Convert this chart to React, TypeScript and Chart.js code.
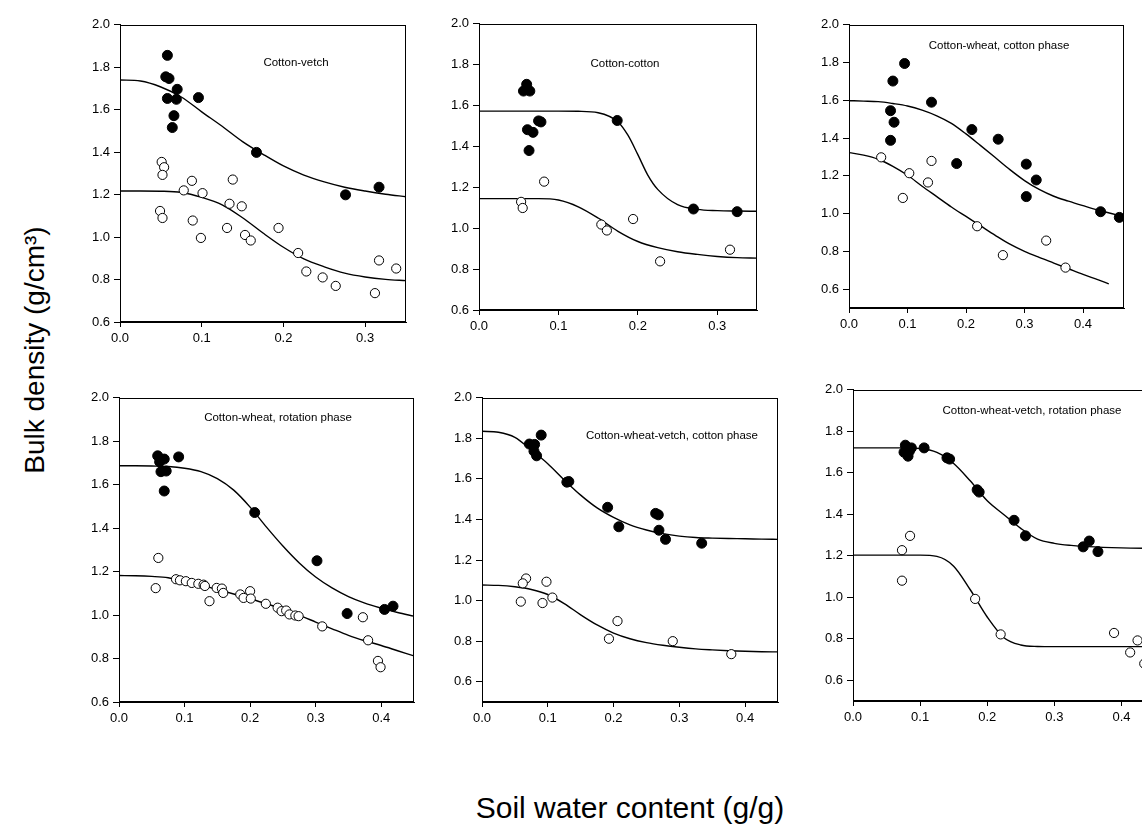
import React, { useEffect, useRef } from "react";
import { Chart, registerables } from "chart.js";
Chart.register(...registerables);

// ---------- tick labels ----------
const xTicksShort = [0, 0.1, 0.2, 0.3];
const xTicksLong = [0, 0.1, 0.2, 0.3, 0.4];
const yTicks = [0.6, 0.8, 1.0, 1.2, 1.4, 1.6, 1.8, 2.0];

// ---------- panel titles ----------
const titles = [
  "Cotton-vetch",
  "Cotton-cotton",
  "Cotton-wheat, cotton phase",
  "Cotton-wheat, rotation phase",
  "Cotton-wheat-vetch, cotton phase",
  "Cotton-wheat-vetch, rotation phase",
];
const xAxisTitle = "Soil water content (g/g)";
const yAxisTitle = "Bulk density (g/cm\u00b3)";

// ---------- Panel 1: Cotton-vetch ----------
const p1Filled = [[0.058,1.856],[0.056,1.755],[0.060,1.747],[0.070,1.696],[0.058,1.653],[0.069,1.649],[0.096,1.657],[0.066,1.572],[0.064,1.516],[0.167,1.399],[0.276,1.199],[0.317,1.235]];
const p1Open = [[0.051,1.354],[0.054,1.329],[0.052,1.293],[0.049,1.123],[0.052,1.090],[0.078,1.220],[0.088,1.265],[0.089,1.078],[0.101,1.207],[0.099,0.996],[0.134,1.157],[0.138,1.271],[0.149,1.145],[0.131,1.043],[0.153,1.010],[0.160,0.984],[0.194,1.043],[0.218,0.925],[0.228,0.838],[0.248,0.810],[0.264,0.770],[0.312,0.736],[0.317,0.890],[0.338,0.852]];
const p1FitFilled = [[0,1.74],[0.025,1.735],[0.05,1.707],[0.075,1.66],[0.1,1.59],[0.125,1.522],[0.15,1.45],[0.175,1.39],[0.2,1.335],[0.225,1.292],[0.25,1.26],[0.275,1.235],[0.3,1.217],[0.325,1.202],[0.35,1.19]];
const p1FitOpen = [[0,1.217],[0.025,1.217],[0.05,1.216],[0.075,1.21],[0.1,1.187],[0.125,1.152],[0.15,1.091],[0.175,1.019],[0.2,0.952],[0.225,0.897],[0.25,0.86],[0.275,0.83],[0.3,0.812],[0.325,0.801],[0.35,0.795]];

// ---------- Panel 2: Cotton-cotton ----------
const p2Filled = [[0.056,1.671],[0.060,1.704],[0.064,1.671],[0.061,1.482],[0.068,1.469],[0.063,1.380],[0.075,1.525],[0.078,1.520],[0.174,1.527],[0.270,1.094],[0.325,1.081]];
const p2Open = [[0.053,1.129],[0.055,1.099],[0.082,1.228],[0.154,1.018],[0.161,0.989],[0.194,1.045],[0.228,0.838],[0.316,0.895]];
const p2FitFilled = [[0,1.573],[0.05,1.573],[0.1,1.573],[0.125,1.572],[0.15,1.565],[0.175,1.52],[0.1875,1.455],[0.2,1.36],[0.2125,1.26],[0.225,1.19],[0.25,1.115],[0.275,1.092],[0.3,1.086],[0.325,1.084],[0.35,1.083]];
const p2FitOpen = [[0,1.145],[0.05,1.145],[0.075,1.145],[0.1,1.138],[0.125,1.105],[0.15,1.05],[0.175,0.985],[0.2,0.935],[0.225,0.905],[0.25,0.885],[0.275,0.872],[0.3,0.862],[0.325,0.856],[0.35,0.854]];

// ---------- Panel 3: Cotton-wheat, cotton phase ----------
const p3Filled = [[0.095,1.795],[0.075,1.702],[0.071,1.545],[0.077,1.484],[0.071,1.388],[0.141,1.590],[0.184,1.265],[0.210,1.445],[0.255,1.394],[0.303,1.262],[0.303,1.090],[0.320,1.178],[0.430,1.010],[0.462,0.980]];
const p3Open = [[0.055,1.298],[0.092,1.083],[0.103,1.214],[0.135,1.165],[0.141,1.279],[0.219,0.933],[0.263,0.780],[0.337,0.857],[0.370,0.714]];
const p3FitFilled = [[0,1.598],[0.025,1.596],[0.05,1.593],[0.075,1.583],[0.1,1.57],[0.125,1.548],[0.15,1.518],[0.175,1.478],[0.2,1.422],[0.225,1.36],[0.25,1.297],[0.275,1.233],[0.3,1.175],[0.325,1.128],[0.35,1.092],[0.375,1.066],[0.4,1.042],[0.425,1.019],[0.45,0.999],[0.465,0.987]];
const p3FitOpen = [[0,1.323],[0.025,1.31],[0.05,1.288],[0.075,1.25],[0.1,1.203],[0.125,1.145],[0.15,1.09],[0.175,1.035],[0.2,0.985],[0.225,0.935],[0.25,0.885],[0.275,0.838],[0.3,0.8],[0.325,0.768],[0.35,0.738],[0.375,0.708],[0.4,0.678],[0.425,0.65],[0.444,0.628]];

// ---------- Panel 4: Cotton-wheat, rotation phase ----------
const p4Filled = [[0.059,1.733],[0.062,1.705],[0.069,1.718],[0.064,1.660],[0.072,1.663],[0.069,1.571],[0.091,1.728],[0.207,1.472],[0.302,1.250],[0.348,1.007],[0.405,1.026],[0.418,1.041]];
const p4Open = [[0.060,1.263],[0.056,1.124],[0.087,1.165],[0.093,1.160],[0.102,1.156],[0.111,1.148],[0.121,1.144],[0.129,1.140],[0.131,1.134],[0.138,1.064],[0.149,1.125],[0.157,1.122],[0.159,1.102],[0.185,1.095],[0.190,1.079],[0.200,1.110],[0.201,1.076],[0.224,1.052],[0.242,1.034],[0.248,1.018],[0.255,1.021],[0.260,1.003],[0.269,0.998],[0.274,0.995],[0.310,0.948],[0.372,0.990],[0.380,0.884],[0.395,0.789],[0.399,0.760]];
const p4FitFilled = [[0,1.687],[0.025,1.687],[0.05,1.686],[0.075,1.684],[0.1,1.676],[0.125,1.66],[0.15,1.628],[0.175,1.575],[0.2,1.497],[0.225,1.405],[0.25,1.318],[0.275,1.24],[0.3,1.175],[0.325,1.125],[0.35,1.085],[0.375,1.055],[0.4,1.032],[0.425,1.012],[0.45,0.995]];
const p4FitOpen = [[0,1.182],[0.025,1.181],[0.05,1.178],[0.075,1.172],[0.1,1.156],[0.125,1.138],[0.15,1.118],[0.175,1.097],[0.2,1.075],[0.225,1.052],[0.25,1.027],[0.275,0.999],[0.3,0.968],[0.325,0.937],[0.35,0.907],[0.375,0.882],[0.4,0.86],[0.425,0.836],[0.45,0.812]];

// ---------- Panel 5: Cotton-wheat-vetch, cotton phase ----------
const p5Filled = [[0.090,1.816],[0.072,1.772],[0.080,1.770],[0.079,1.737],[0.083,1.714],[0.129,1.584],[0.132,1.587],[0.191,1.460],[0.208,1.364],[0.264,1.430],[0.268,1.423],[0.269,1.347],[0.279,1.302],[0.334,1.283]];
const p5Open = [[0.067,1.109],[0.062,1.085],[0.059,0.995],[0.098,1.093],[0.092,0.988],[0.107,1.015],[0.193,0.812],[0.206,0.899],[0.290,0.800],[0.379,0.736]];
const p5FitFilled = [[0,1.835],[0.025,1.83],[0.05,1.805],[0.075,1.742],[0.1,1.675],[0.125,1.595],[0.15,1.52],[0.175,1.457],[0.2,1.41],[0.225,1.373],[0.25,1.348],[0.275,1.33],[0.3,1.318],[0.325,1.311],[0.35,1.308],[0.375,1.306],[0.4,1.305],[0.425,1.303],[0.45,1.302]];
const p5FitOpen = [[0,1.077],[0.025,1.075],[0.05,1.068],[0.075,1.055],[0.1,1.03],[0.125,0.985],[0.15,0.93],[0.175,0.88],[0.2,0.84],[0.225,0.812],[0.25,0.793],[0.275,0.78],[0.3,0.77],[0.325,0.762],[0.35,0.757],[0.375,0.753],[0.4,0.75],[0.425,0.748],[0.45,0.747]];

// ---------- Panel 6: Cotton-wheat-vetch, rotation phase ----------
const p6Filled = [[0.078,1.733],[0.087,1.720],[0.076,1.699],[0.082,1.680],[0.084,1.704],[0.106,1.720],[0.140,1.672],[0.144,1.666],[0.185,1.518],[0.188,1.507],[0.240,1.371],[0.257,1.296],[0.343,1.243],[0.352,1.271],[0.365,1.220]];
const p6Open = [[0.085,1.296],[0.073,1.227],[0.073,1.080],[0.182,0.992],[0.220,0.821],[0.389,0.828],[0.413,0.734],[0.424,0.792],[0.434,0.680]];
const p6FitFilled = [[0,1.72],[0.025,1.72],[0.05,1.72],[0.075,1.72],[0.1,1.717],[0.125,1.698],[0.15,1.645],[0.175,1.56],[0.2,1.465],[0.225,1.398],[0.25,1.332],[0.275,1.28],[0.3,1.26],[0.325,1.25],[0.35,1.244],[0.4,1.238],[0.45,1.236]];
const p6FitOpen = [[0,1.203],[0.025,1.203],[0.05,1.203],[0.075,1.203],[0.1,1.203],[0.125,1.197],[0.15,1.15],[0.175,1.035],[0.2,0.905],[0.225,0.805],[0.25,0.77],[0.275,0.763],[0.3,0.762],[0.35,0.762],[0.4,0.762],[0.45,0.762]];

// ---------- layout (pixels) ----------
const FONT = "'Liberation Sans', Arial, Helvetica, sans-serif";
const YW = 50; // y-axis reserved width
const XH = 30; // x-axis reserved height
const PT = 10; // top padding
const PR = 10; // right padding

type Pair = number[];
type PanelDef = {
  title: string;
  filled: Pair[];
  open: Pair[];
  fitFilled: Pair[];
  fitOpen: Pair[];
  xMax: number;
  yMin: number;
  xTicks: number[];
  area: { left: number; top: number; width: number; height: number };
  titleAt: { dx: number; dy: number };
};

const panels: PanelDef[] = [
  { title: titles[0], filled: p1Filled, open: p1Open, fitFilled: p1FitFilled, fitOpen: p1FitOpen, xMax: 0.35, yMin: 0.6, xTicks: xTicksShort, area: { left: 120, top: 23, width: 286, height: 299 }, titleAt: { dx: 176, dy: 38 } },
  { title: titles[1], filled: p2Filled, open: p2Open, fitFilled: p2FitFilled, fitOpen: p2FitOpen, xMax: 0.35, yMin: 0.6, xTicks: xTicksShort, area: { left: 479, top: 22, width: 278, height: 288 }, titleAt: { dx: 146, dy: 40 } },
  { title: titles[2], filled: p3Filled, open: p3Open, fitFilled: p3FitFilled, fitOpen: p3FitOpen, xMax: 0.47, yMin: 0.5, xTicks: xTicksLong, area: { left: 849, top: 23, width: 275, height: 285 }, titleAt: { dx: 150, dy: 21 } },
  { title: titles[3], filled: p4Filled, open: p4Open, fitFilled: p4FitFilled, fitOpen: p4FitOpen, xMax: 0.45, yMin: 0.6, xTicks: xTicksLong, area: { left: 119, top: 396, width: 295, height: 306 }, titleAt: { dx: 159, dy: 20 } },
  { title: titles[4], filled: p5Filled, open: p5Open, fitFilled: p5FitFilled, fitOpen: p5FitOpen, xMax: 0.45, yMin: 0.5, xTicks: xTicksLong, area: { left: 482, top: 396, width: 296, height: 306 }, titleAt: { dx: 190, dy: 38 } },
  { title: titles[5], filled: p6Filled, open: p6Open, fitFilled: p6FitFilled, fitOpen: p6FitOpen, xMax: 0.45, yMin: 0.5, xTicks: xTicksLong, area: { left: 853, top: 388, width: 302, height: 313 }, titleAt: { dx: 179, dy: 21 } },
];

const toXY = (arr: Pair[]) => arr.map(([x, y]) => ({ x, y }));

const framePlugin = {
  id: "frame",
  afterDatasetsDraw(chart: any) {
    const { ctx, chartArea: a } = chart;
    ctx.save();
    ctx.strokeStyle = "#000";
    ctx.lineWidth = 1;
    ctx.strokeRect(Math.round(a.left) + 0.5, Math.round(a.top) + 0.5, Math.round(a.right - a.left) - 1, Math.round(a.bottom - a.top) - 1);
    ctx.restore();
  },
};

function Panel({ def }: { def: PanelDef }) {
  const ref = useRef<HTMLCanvasElement | null>(null);
  const W = def.area.width + YW + PR;
  const H = def.area.height + PT + XH;

  useEffect(() => {
    if (!ref.current) return;
    const titlePlugin = {
      id: "panelTitle",
      afterDraw(chart: any) {
        const { ctx, chartArea: a } = chart;
        ctx.save();
        ctx.fillStyle = "#000";
        ctx.font = `11.5px ${FONT}`;
        ctx.textAlign = "center";
        ctx.textBaseline = "middle";
        ctx.fillText(def.title, a.left + def.titleAt.dx, a.top + def.titleAt.dy);
        ctx.restore();
      },
    };
    const chart = new Chart(ref.current, {
      type: "scatter",
      data: {
        datasets: [
          { data: toXY(def.filled), backgroundColor: "#000", borderColor: "#000", borderWidth: 1, pointRadius: 5, order: 0 } as any,
          { data: toXY(def.open), backgroundColor: "#fff", borderColor: "#000", borderWidth: 1, pointRadius: 4.6, order: 0 } as any,
          { type: "line", data: toXY(def.fitFilled), borderColor: "#000", borderWidth: 1.4, pointRadius: 0, fill: false, cubicInterpolationMode: "monotone", order: 1 } as any,
          { type: "line", data: toXY(def.fitOpen), borderColor: "#000", borderWidth: 1.4, pointRadius: 0, fill: false, cubicInterpolationMode: "monotone", order: 1 } as any,
        ],
      },
      options: {
        responsive: false,
        animation: false,
        events: [],
        layout: { padding: { left: 0, top: PT, right: PR, bottom: 0 } },
        plugins: { legend: { display: false }, tooltip: { enabled: false } },
        scales: {
          x: {
            type: "linear",
            min: 0,
            max: def.xMax,
            afterBuildTicks: (s: any) => { s.ticks = def.xTicks.map((v) => ({ value: v })); },
            afterFit: (s: any) => { s.height = XH; },
            grid: { drawOnChartArea: false, drawTicks: true, tickLength: 5, color: "#000", lineWidth: 1 },
            border: { display: true, color: "#000", width: 1 },
            ticks: { color: "#000", font: { family: FONT, size: 13 }, padding: 4, maxRotation: 0, autoSkip: false, callback: (v: any) => Number(v).toFixed(1) },
          },
          y: {
            type: "linear",
            min: def.yMin,
            max: 2.0,
            afterBuildTicks: (s: any) => { s.ticks = yTicks.map((v) => ({ value: v })); },
            afterFit: (s: any) => { s.width = YW; },
            grid: { drawOnChartArea: false, drawTicks: true, tickLength: 6, color: "#000", lineWidth: 1 },
            border: { display: true, color: "#000", width: 1 },
            ticks: { color: "#000", font: { family: FONT, size: 13 }, padding: 4, autoSkip: false, callback: (v: any) => Number(v).toFixed(1) },
          },
        },
      } as any,
      plugins: [framePlugin, titlePlugin],
    });
    return () => chart.destroy();
  }, []);

  return (
    <canvas
      ref={ref}
      width={W}
      height={H}
      style={{ position: "absolute", left: def.area.left - YW, top: def.area.top - PT, width: W, height: H }}
    />
  );
}

export default function App() {
  return (
    <div style={{ position: "absolute", left: 0, top: 0, width: 1142, height: 825, overflow: "hidden", background: "#fff" }}>
      {panels.map((p, i) => (
        <Panel key={i} def={p} />
      ))}
      <div
        style={{
          position: "absolute",
          left: 35,
          top: 350,
          transform: "translate(-50%, -50%) rotate(-90deg)",
          whiteSpace: "nowrap",
          fontFamily: FONT,
          fontSize: 28,
          lineHeight: "30px",
          color: "#000",
        }}
      >
        {yAxisTitle}
      </div>
      <div
        style={{
          position: "absolute",
          left: 630,
          top: 793,
          transform: "translateX(-50%)",
          whiteSpace: "nowrap",
          fontFamily: FONT,
          fontSize: 30,
          lineHeight: "30px",
          color: "#000",
        }}
      >
        {xAxisTitle}
      </div>
    </div>
  );
}
